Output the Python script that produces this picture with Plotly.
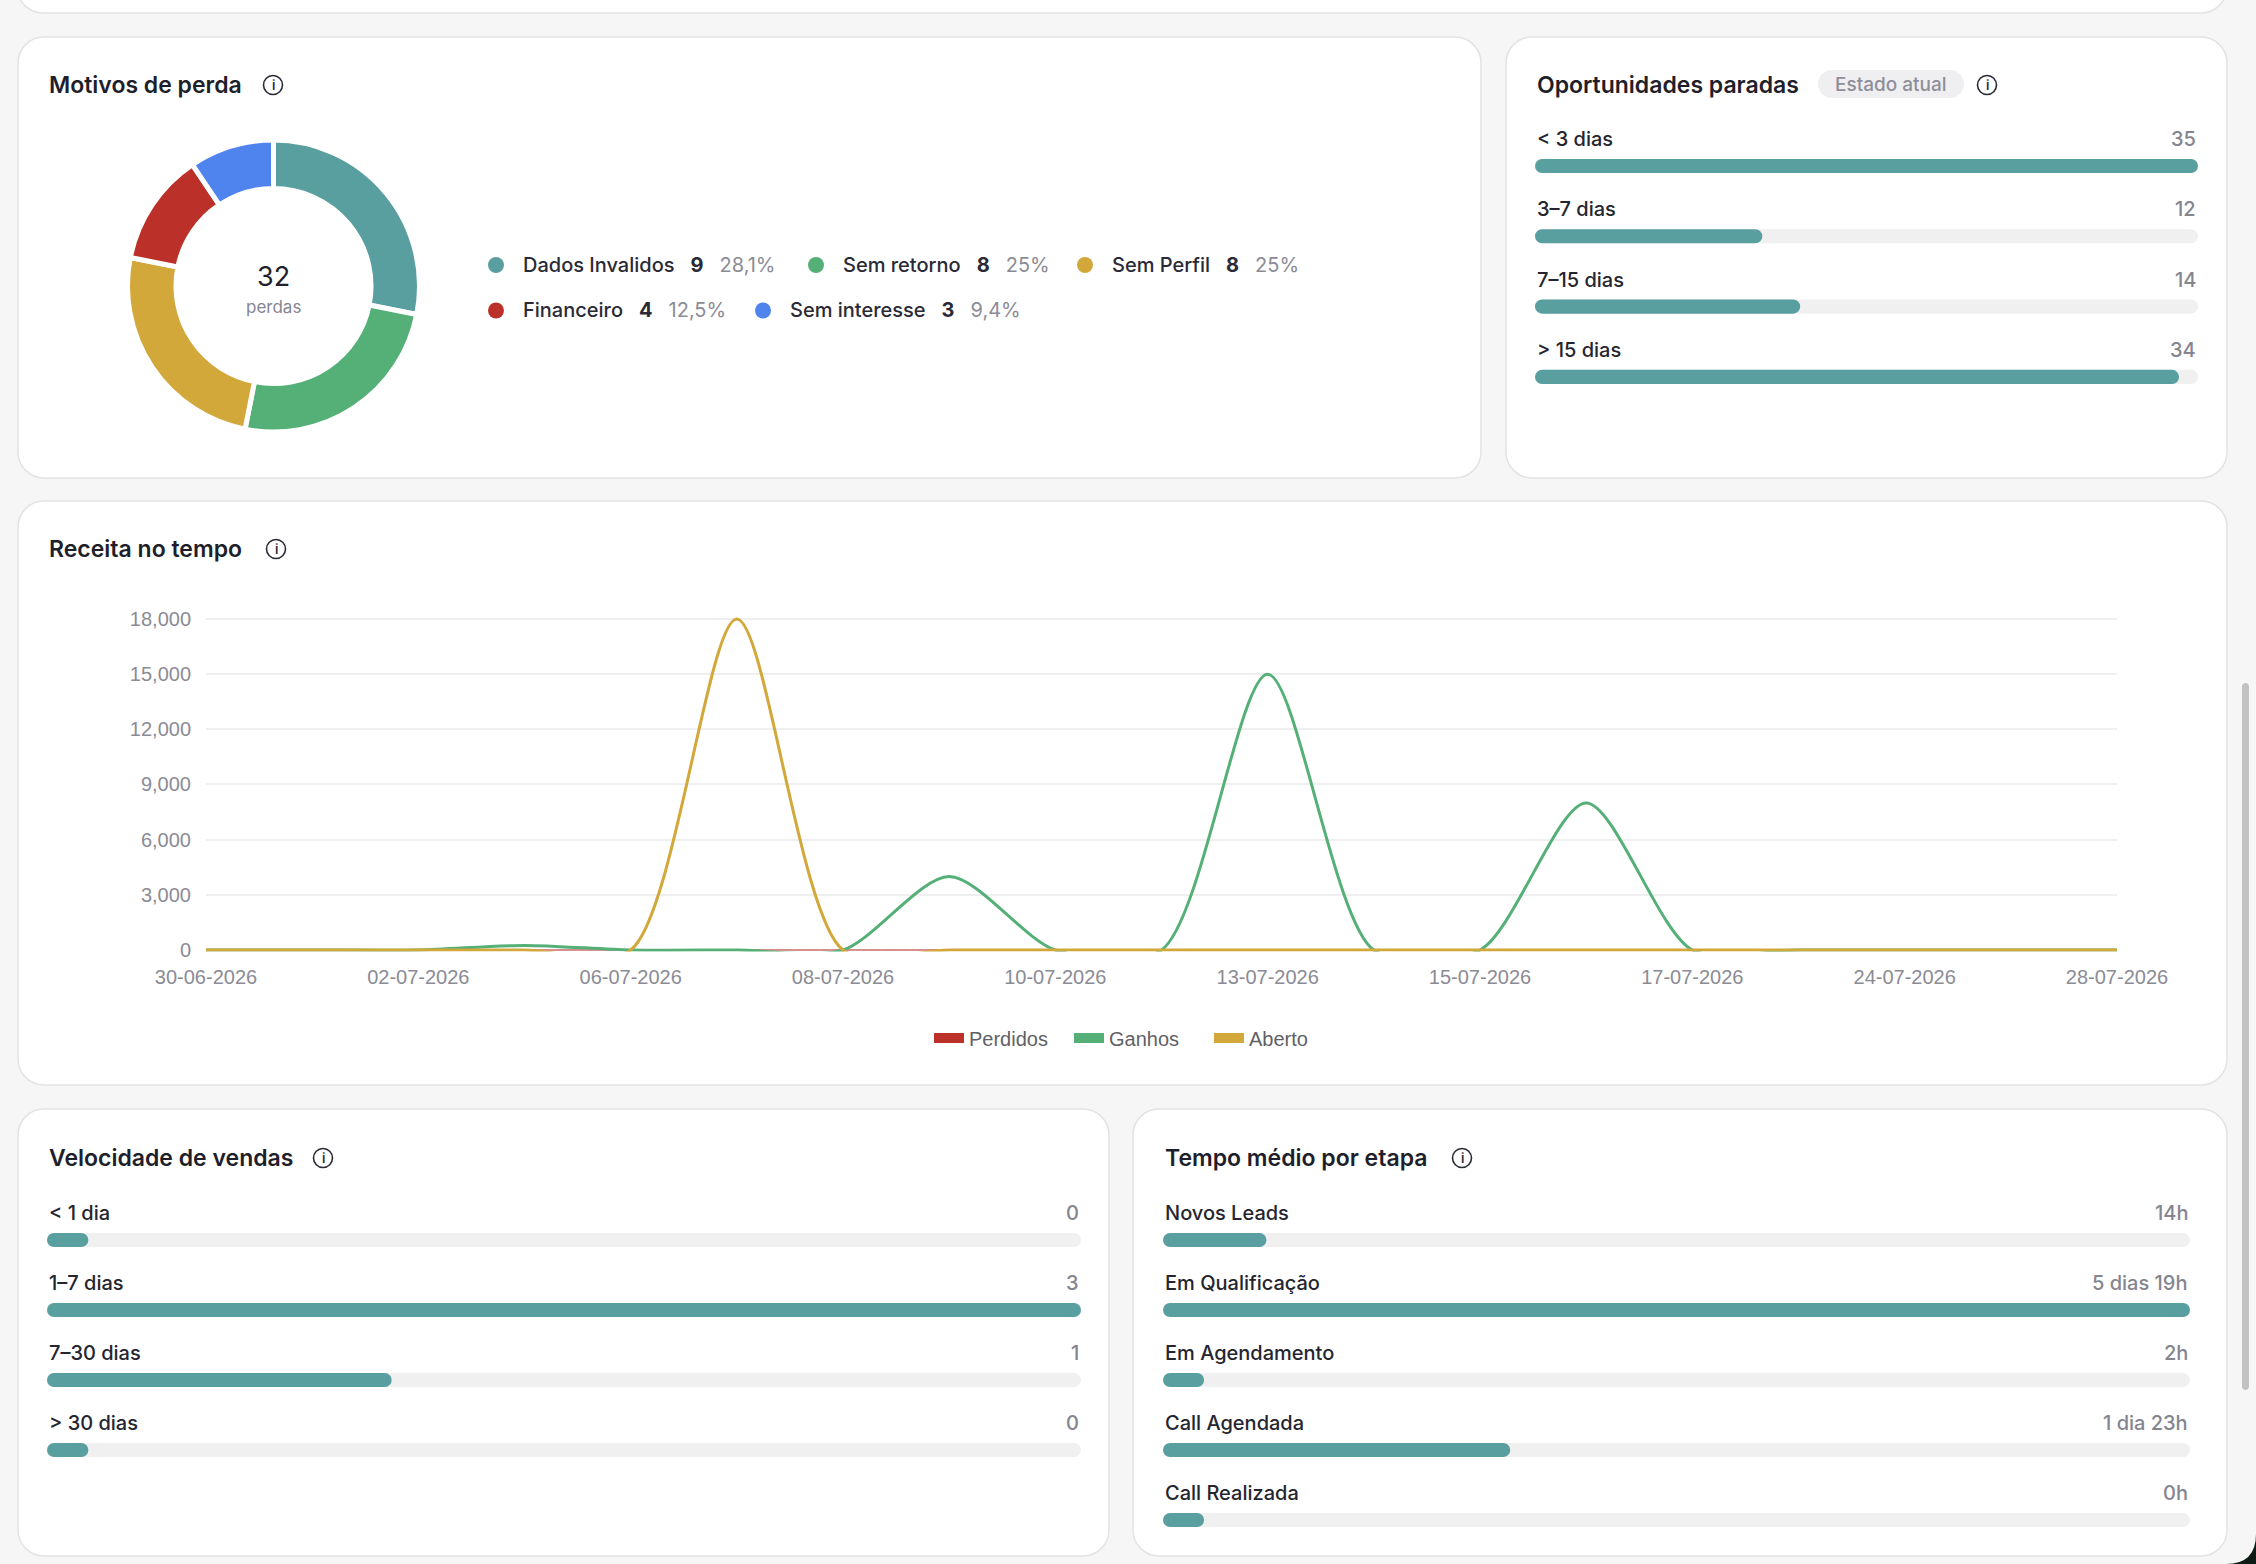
import plotly.graph_objects as go

W, H = 2256, 1564
BG = "#f6f6f6"
DARK = "#1f1f2b"
GRAY = "#85858f"
TEAL = "#5a9fa0"
GREEN = "#55b077"
GOLD = "#d3a83b"
RED = "#bb3129"
BLUE = "#4f83ee"
TRACK = "#f0f0f1"
UI_FONT = "Inter"
AX_FONT = "Liberation Sans"

# ---------------- data ----------------
loss_reasons = ["Dados Invalidos", "Sem retorno", "Sem Perfil", "Financeiro", "Sem interesse"]
loss_counts = [9, 8, 8, 4, 3]
loss_colors = [TEAL, GREEN, GOLD, RED, BLUE]

stalled_labels = ["< 3 dias", "3–7 dias", "7–15 dias", "> 15 dias"]
stalled_values = [35, 12, 14, 34]

dates = ["30-06-2026", "01-07-2026", "02-07-2026", "03-07-2026", "06-07-2026",
         "07-07-2026", "08-07-2026", "09-07-2026", "10-07-2026", "11-07-2026",
         "13-07-2026", "14-07-2026", "15-07-2026", "16-07-2026", "17-07-2026",
         "20-07-2026", "24-07-2026", "27-07-2026", "28-07-2026"]
shown_dates = ["30-06-2026", "02-07-2026", "06-07-2026", "08-07-2026", "10-07-2026",
               "13-07-2026", "15-07-2026", "17-07-2026", "24-07-2026", "28-07-2026"]
perdidos = [0, 0, 0, 0, 0, 0, 0, 0, 0, 0, 0, 0, 0, 0, 0, 0, 0, 0, 0]
ganhos = [0, 0, 0, 250, 0, 0, 0, 4000, 0, 0, 15000, 0, 0, 8000, 0, 0, 0, 0, 0]
aberto = [0, 0, 0, 0, 0, 18000, 0, 0, 0, 0, 0, 0, 0, 0, 0, 0, 0, 0, 0]
y_ticks = [0, 3000, 6000, 9000, 12000, 15000, 18000]

speed_labels = ["< 1 dia", "1–7 dias", "7–30 dias", "> 30 dias"]
speed_values = [0, 3, 1, 0]

stage_labels = ["Novos Leads", "Em Qualificação", "Em Agendamento", "Call Agendada", "Call Realizada"]
stage_hours = [14, 139, 2, 47, 0]


# ---------------- helpers ----------------
def X(p):
    return p / W


def Y(p):
    return 1 - p / H


def rrect_path(x0, y0, x1, y1, r):
    k = 0.5523 * r
    pts = [
        ("M", [(x0 + r, y0)]),
        ("L", [(x1 - r, y0)]),
        ("C", [(x1 - r + k, y0), (x1, y0 + r - k), (x1, y0 + r)]),
        ("L", [(x1, y1 - r)]),
        ("C", [(x1, y1 - r + k), (x1 - r + k, y1), (x1 - r, y1)]),
        ("L", [(x0 + r, y1)]),
        ("C", [(x0 + r - k, y1), (x0, y1 - r + k), (x0, y1 - r)]),
        ("L", [(x0, y0 + r)]),
        ("C", [(x0, y0 + r - k), (x0 + r - k, y0), (x0 + r, y0)]),
    ]
    s = ""
    for cmd, ps in pts:
        s += cmd + " ".join(f"{X(a):.6f},{Y(b):.6f}" for a, b in ps)
    return s + "Z"


def fmt_hours(h):
    d, r = divmod(h, 24)
    if d == 0:
        return f"{r}h"
    return f"{d} {'dia' if d == 1 else 'dias'} {r}h"


def fmt_pct(v, total):
    p = round(100 * v / total, 1)
    s = f"{p:.1f}".rstrip("0").rstrip(".")
    return s.replace(".", ",") + "%"


shapes = []
annotations = []


def card(x0, y0, x1, y1):
    shapes.append(dict(type="path", xref="paper", yref="paper", layer="below",
                       path=rrect_path(x0, y0, x1, y1, 26),
                       fillcolor="white", line=dict(color="#e3e3e6", width=1.5)))


def title(text, x, y):
    annotations.append(dict(xref="paper", yref="paper", x=X(x), y=Y(y), text=text,
                            showarrow=False, xanchor="left", yanchor="middle",
                            font=dict(family=UI_FONT, size=23, color=DARK, weight=600)))


def info_icon(cx, cy):
    r = 9.5
    shapes.append(dict(type="circle", xref="paper", yref="paper", layer="above",
                       x0=X(cx - r), x1=X(cx + r), y0=Y(cy + r), y1=Y(cy - r),
                       line=dict(color="#2b2b36", width=1.6), fillcolor="rgba(0,0,0,0)"))
    annotations.append(dict(xref="paper", yref="paper", x=X(cx), y=Y(cy), text="i",
                            showarrow=False, xanchor="center", yanchor="middle",
                            font=dict(family=UI_FONT, size=13, color="#2b2b36", weight=600)))


# ---------------- cards ----------------
card(17, -60, 2227, 13)
card(18, 37, 1481, 478)
card(1506, 37, 2227, 478)
card(18, 501, 2227, 1085)
card(18, 1109, 1109, 1556)
card(1133, 1109, 2227, 1556)

title("Motivos de perda", 47, 85)
info_icon(273, 85)
title("Oportunidades paradas", 1535, 85)
info_icon(1987, 85)
title("Receita no tempo", 47, 549)
info_icon(276, 549)
title("Velocidade de vendas", 47, 1158)
info_icon(323, 1158)
title("Tempo médio por etapa", 1163, 1158)
info_icon(1462, 1158)

# badge
shapes.append(dict(type="path", xref="paper", yref="paper", layer="above",
                   path=rrect_path(1818, 70, 1964, 98, 14), fillcolor="#efeff1",
                   line=dict(width=0)))
annotations.append(dict(xref="paper", yref="paper", x=X(1891), y=Y(84), text="Estado atual",
                        showarrow=False, xanchor="center", yanchor="middle",
                        font=dict(family=UI_FONT, size=19, color="#8e8e99", weight=500)))

# scrollbar + window corner
shapes.append(dict(type="path", xref="paper", yref="paper", layer="above",
                   path=rrect_path(2242, 683, 2249, 1390, 3.5), fillcolor="#c2c2c2",
                   line=dict(width=0)))
shapes.append(dict(type="path", xref="paper", yref="paper", layer="above",
                   path=f"M{X(2256)},{Y(1534)} Q{X(2256)},{Y(1564)} {X(2226)},{Y(1564)} L{X(2256)},{Y(1564)} Z",
                   fillcolor="#0f1a14", line=dict(width=0)))

fig = go.Figure()

# ---------------- donut ----------------
R = 146
cx, cy = 273.5, 286
fig.add_trace(go.Pie(values=loss_counts, labels=loss_reasons, sort=False,
                     direction="clockwise", rotation=0, hole=0.668,
                     marker=dict(colors=loss_colors, line=dict(color="white", width=5)),
                     textinfo="none", hoverinfo="label+value", showlegend=False,
                     domain=dict(x=[X(cx - R), X(cx + R)], y=[Y(cy + R), Y(cy - R)])))
total = sum(loss_counts)
annotations.append(dict(xref="paper", yref="paper", x=X(cx), y=Y(276), text=str(total),
                        showarrow=False, xanchor="center", yanchor="middle",
                        font=dict(family=UI_FONT, size=27, color=DARK, weight=400)))
annotations.append(dict(xref="paper", yref="paper", x=X(cx), y=Y(307), text="perdas",
                        showarrow=False, xanchor="center", yanchor="middle",
                        font=dict(family=UI_FONT, size=17, color=GRAY, weight=400)))

legend_pos = [(496, 265), (816, 265), (1085, 265), (496, 310.5), (763, 310.5)]
nb = "\u00a0"
for (lx, ly), name, v, col in zip(legend_pos, loss_reasons, loss_counts, loss_colors):
    r = 8
    shapes.append(dict(type="circle", xref="paper", yref="paper", layer="above",
                       x0=X(lx - r), x1=X(lx + r), y0=Y(ly + r), y1=Y(ly - r),
                       fillcolor=col, line=dict(width=0)))
    txt = (f"{name}{nb*3}<b>{v}</b>{nb*3}"
           f"<span style='color:#8b8b95;font-weight:400'>{fmt_pct(v, total)}</span>")
    annotations.append(dict(xref="paper", yref="paper", x=X(lx + 25), y=Y(ly), text=txt,
                            showarrow=False, xanchor="left", yanchor="middle",
                            font=dict(family=UI_FONT, size=20, color="#2a2a36", weight=500)))

# ---------------- line chart ----------------
for name, vals, col, lw in [("Perdidos", perdidos, RED, 1), ("Ganhos", ganhos, GREEN, 3),
                            ("Aberto", aberto, GOLD, 3)]:
    fig.add_trace(go.Scatter(x=dates, y=vals, mode="lines", name=name,
                             line=dict(color=col, width=lw, shape="spline", smoothing=0.8),
                             showlegend=False, xaxis="x", yaxis="y"))
for name, col in [("Perdidos", RED), ("Ganhos", GREEN), ("Aberto", GOLD)]:
    fig.add_trace(go.Scatter(x=[None], y=[None], mode="lines", name=name,
                             line=dict(color=col, width=10), showlegend=True,
                             xaxis="x", yaxis="y"))

kpx = 331 / 18000
YMIN, YMAX = -80, 18110
ybot = 950 - YMIN * kpx
ytop = 619 - (YMAX - 18000) * kpx

# ---------------- progress panels ----------------
def progress_panel(idx, labels, values, texts, x0, x1, yc0, spacing):
    n = len(labels)
    vmax = max(values)
    disp = [max(v, 0.04 * vmax) for v in values]
    xa, ya = f"x{idx}", f"y{idx}"
    common = dict(orientation="h", y=labels, width=0.2, xaxis=xa, yaxis=ya,
                  hoverinfo="skip", showlegend=False)
    for vals, col in [([vmax] * n, TRACK), (disp, TEAL)]:
        # explicit base -> plotly rounds both ends of each bar
        fig.add_trace(go.Bar(x=vals, base=[0] * n,
                             marker=dict(color=col, cornerradius=7, line=dict(width=0)),
                             **common))
    top = yc0 - spacing / 2
    bot = yc0 + (n - 1) * spacing + spacing / 2
    lay = {
        f"xaxis{idx}": dict(domain=[X(x0), X(x1)], range=[0, vmax], visible=False,
                            fixedrange=True, anchor=ya, automargin=False),
        f"yaxis{idx}": dict(domain=[Y(bot), Y(top)], type="category",
                            categoryorder="array", categoryarray=labels,
                            range=[n - 0.5, -0.5], visible=False, fixedrange=True, anchor=xa,
                            automargin=False),
    }
    for lab, t in zip(labels, texts):
        annotations.append(dict(xref=xa, yref=ya, x=0, y=lab, yshift=27, text=lab,
                                showarrow=False, xanchor="left", yanchor="middle",
                                font=dict(family=UI_FONT, size=20, color="#25252f", weight=500)))
        annotations.append(dict(xref=xa, yref=ya, x=vmax, y=lab, yshift=27, text=t,
                                showarrow=False, xanchor="right", yanchor="middle",
                                font=dict(family=UI_FONT, size=20, color=GRAY, weight=500)))
    return lay


extra = {}
extra.update(progress_panel(2, stalled_labels, stalled_values, [str(v) for v in stalled_values],
                            1535, 2198, 166, 70.3))
extra.update(progress_panel(3, speed_labels, speed_values, [str(v) for v in speed_values],
                            47, 1081, 1240, 70))
extra.update(progress_panel(4, stage_labels, stage_hours, [fmt_hours(h) for h in stage_hours],
                            1163, 2190, 1240, 70))

fig.update_layout(
    width=W, height=H, autosize=False,
    margin=dict(l=0, r=0, t=0, b=0, pad=0, autoexpand=False),
    paper_bgcolor=BG, plot_bgcolor="rgba(0,0,0,0)",
    barmode="overlay", shapes=shapes, annotations=annotations,
    xaxis=dict(domain=[X(206), X(2117)], type="category", categoryorder="array",
               categoryarray=dates, range=[0, len(dates) - 1],
               tickmode="array", tickvals=shown_dates, ticktext=shown_dates,
               showgrid=False, zeroline=False, showline=False, ticks="",
               ticklabelstandoff=12, automargin=False,
               tickfont=dict(family=AX_FONT, size=20, color="#8b8b95"), anchor="y",
               fixedrange=True),
    yaxis=dict(domain=[Y(ybot), Y(ytop)], range=[YMIN, YMAX], tickmode="array",
               tickvals=y_ticks, tickformat=",", showgrid=True, gridcolor="#efeff0",
               gridwidth=1.5, zeroline=False, showline=False, ticks="",
               ticklabelstandoff=14, automargin=False,
               tickfont=dict(family=AX_FONT, size=20, color="#8b8b95"), anchor="x",
               fixedrange=True),
    legend=dict(orientation="h", x=X(1139), xanchor="center", y=Y(1038), yanchor="middle",
                font=dict(family=AX_FONT, size=20, color="#5f5f66"), bgcolor="rgba(0,0,0,0)",
                itemwidth=30, tracegroupgap=0, entrywidth=95, entrywidthmode="pixels"),
    **extra,
)

fig.write_html("out.html", config={"responsive": False, "displayModeBar": False},
               post_script="document.body.style.margin='0px';document.body.style.overflow='hidden';")
